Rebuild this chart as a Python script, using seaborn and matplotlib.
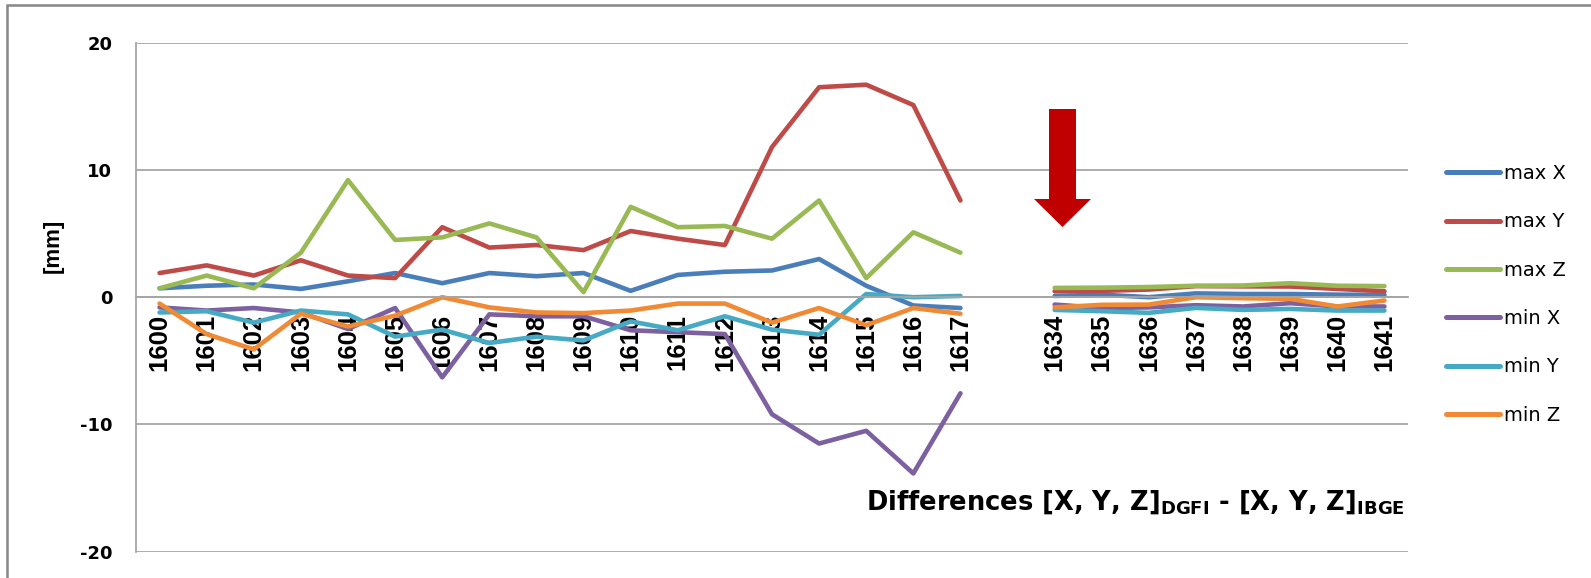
import numpy as np
import pandas as pd
import matplotlib
matplotlib.use("Agg")
import matplotlib.pyplot as plt
import seaborn as sns
from matplotlib.patches import Polygon
from matplotlib.lines import Line2D

# ---------------- data ----------------
stations = ["1600", "1601", "1602", "1603", "1604", "1605", "1606", "1607", "1608",
            "1609", "1610", "1611", "1612", "1613", "1614", "1615", "1616", "1617",
            "",
            "1634", "1635", "1636", "1637", "1638", "1639", "1640", "1641"]
nan = np.nan
max_x = [0.7, 0.9, 1.0, 0.65, 1.25, 1.9, 1.1, 1.9, 1.65, 1.9, 0.5, 1.75, 2.0, 2.1, 3.0, 0.9, -0.65, -0.85,
         nan,
         0.1, 0.2, 0.0, 0.3, 0.25, 0.25, 0.2, 0.18]
max_y = [1.9, 2.5, 1.7, 2.9, 1.7, 1.5, 5.5, 3.9, 4.1, 3.7, 5.2, 4.6, 4.1, 11.8, 16.5, 16.7, 15.1, 7.6,
         nan,
         0.47, 0.5, 0.6, 0.87, 0.85, 0.84, 0.65, 0.47]
max_z = [0.7, 1.7, 0.7, 3.5, 9.2, 4.5, 4.7, 5.8, 4.7, 0.4, 7.1, 5.5, 5.6, 4.6, 7.6, 1.5, 5.1, 3.5,
         nan,
         0.73, 0.75, 0.8, 0.9, 0.92, 1.1, 0.9, 0.87]
min_x = [-0.8, -1.05, -0.85, -1.2, -2.5, -0.85, -6.3, -1.35, -1.5, -1.5, -2.6, -2.75, -2.9, -9.2, -11.5, -10.5, -13.85, -7.55,
         nan,
         -0.58, -0.85, -0.8, -0.63, -0.73, -0.47, -0.73, -0.73]
min_y = [-1.2, -1.1, -2.0, -1.05, -1.35, -3.1, -2.55, -3.6, -3.1, -3.4, -1.9, -2.6, -1.5, -2.55, -2.95, 0.25, 0.0, 0.1,
         nan,
         -1.0, -1.1, -1.23, -0.84, -1.0, -0.92, -1.05, -1.05]
min_z = [-0.5, -2.9, -4.1, -1.3, -2.3, -1.45, 0.0, -0.8, -1.2, -1.25, -1.05, -0.5, -0.5, -2.0, -0.85, -2.2, -0.85, -1.3,
         nan,
         -0.8, -0.6, -0.58, 0.0, -0.08, -0.13, -0.73, -0.26]

series_names = ["max X", "max Y", "max Z", "min X", "min Y", "min Z"]
series_values = [max_x, max_y, max_z, min_x, min_y, min_z]
series_colors = ["#4A7EBB", "#BE4B48", "#98B954", "#7D60A0", "#46AAC5", "#F08A35"]
y_ticks = [-20, -10, 0, 10, 20]

x_title = r"Differences [X, Y, Z]$_{\mathbf{DGFI}}$ - [X, Y, Z]$_{\mathbf{IBGE}}$"
y_title = "[mm]"

# ---------------- long-form table ----------------
rows = []
for name, vals in zip(series_names, series_values):
    seg = 0
    for i, v in enumerate(vals):
        if np.isnan(v):
            seg += 1
            continue
        rows.append({"pos": i, "value": v, "series": name, "seg": seg})
df = pd.DataFrame(rows)

# ---------------- style ----------------
sns.set_style("white")
plt.rcParams["font.family"] = ["DejaVu Sans"]
plt.rcParams["mathtext.fontset"] = "dejavusans"
plt.rcParams["axes.unicode_minus"] = False
for k in ["text.color", "axes.labelcolor", "xtick.color", "ytick.color"]:
    plt.rcParams[k] = "black"

W, H = 1591, 578
fig = plt.figure(figsize=(W / 100, H / 100), dpi=100)
fig.patch.set_facecolor("white")

left, right, top, bottom = 136, 1408, 42.7, 551.7
ax = fig.add_axes([left / W, 1 - bottom / H, (right - left) / W, (bottom - top) / H])

palette = dict(zip(series_names, series_colors))
sns.lineplot(data=df, x="pos", y="value", hue="series", hue_order=series_names,
             units="seg", estimator=None, sort=False, palette=palette,
             linewidth=3.3, ax=ax, legend=False)

ax.set_xlim(-0.5, len(stations) - 0.5)
ax.set_ylim(min(y_ticks), max(y_ticks))
ax.set_xlabel("")
ax.set_ylabel(y_title, fontsize=16, fontweight="bold", family="Liberation Sans", color="black")
ax.yaxis.set_label_coords(-0.0566, 0.60)

grid_c = "#A6A6A6"
ax.set_yticks(y_ticks)
ax.set_yticklabels([str(t) for t in y_ticks], fontsize=13, fontweight="bold", family="DejaVu Sans")
ax.yaxis.grid(True, color=grid_c, linewidth=1.3)
ax.xaxis.grid(False)
ax.set_axisbelow(True)

for s in ["top", "right"]:
    ax.spines[s].set_visible(False)
ax.spines["left"].set_color(grid_c)
ax.spines["left"].set_linewidth(1.3)
ax.spines["bottom"].set_position(("data", 0))
ax.spines["bottom"].set_color(grid_c)
ax.spines["bottom"].set_linewidth(1.3)

ax.set_xticks(range(len(stations)))
ax.set_xticklabels(stations, rotation=90, fontsize=18.5, fontweight="bold",
                   family="Liberation Sans", va="top")
ax.set_xticks(np.arange(-0.5, len(stations), 1.0), minor=True)
ax.tick_params(axis="x", which="major", length=0, pad=12, labelcolor="black")
ax.tick_params(axis="x", which="minor", length=8, width=1.3, color=grid_c, direction="out")
ax.tick_params(axis="y", which="major", length=8, width=1.3, color=grid_c, pad=9, labelcolor="black")

# legend
handles = [Line2D([0], [0], color=c, linewidth=3.6, solid_capstyle="round") for c in series_colors]
leg = ax.legend(handles, series_names, loc="upper left",
                bbox_to_anchor=(1446 / W, 1 - 164 / H), bbox_transform=fig.transFigure,
                frameon=False, handlelength=2.8, handletextpad=0.2,
                labelspacing=1.51, borderpad=0, borderaxespad=0,
                prop={"family": "DejaVu Sans", "size": 14})
for t in leg.get_texts():
    t.set_color("black")

# axis title (bottom right)
fig.text(866 / W, 1 - 510 / H, x_title, fontsize=18.5, fontweight="bold",
         family="DejaVu Sans", ha="left", va="baseline", color="black")

# red arrow
pts = [(1049, 109), (1076, 109), (1076, 199), (1091, 199), (1062.5, 227), (1034, 199), (1049, 199)]
arrow = Polygon([(x / W, 1 - y / H) for x, y in pts], closed=True, transform=fig.transFigure,
                facecolor="#C00000", edgecolor="none")
fig.add_artist(arrow)

# outer frame (left and top edges visible)
frame = Line2D([7 / W, 7 / W, 1.0], [0.0, 1 - 5 / H, 1 - 5 / H], transform=fig.transFigure,
               color="#878787", linewidth=1.8, solid_joinstyle="miter")
fig.add_artist(frame)

fig.savefig("out.png", dpi=100)
